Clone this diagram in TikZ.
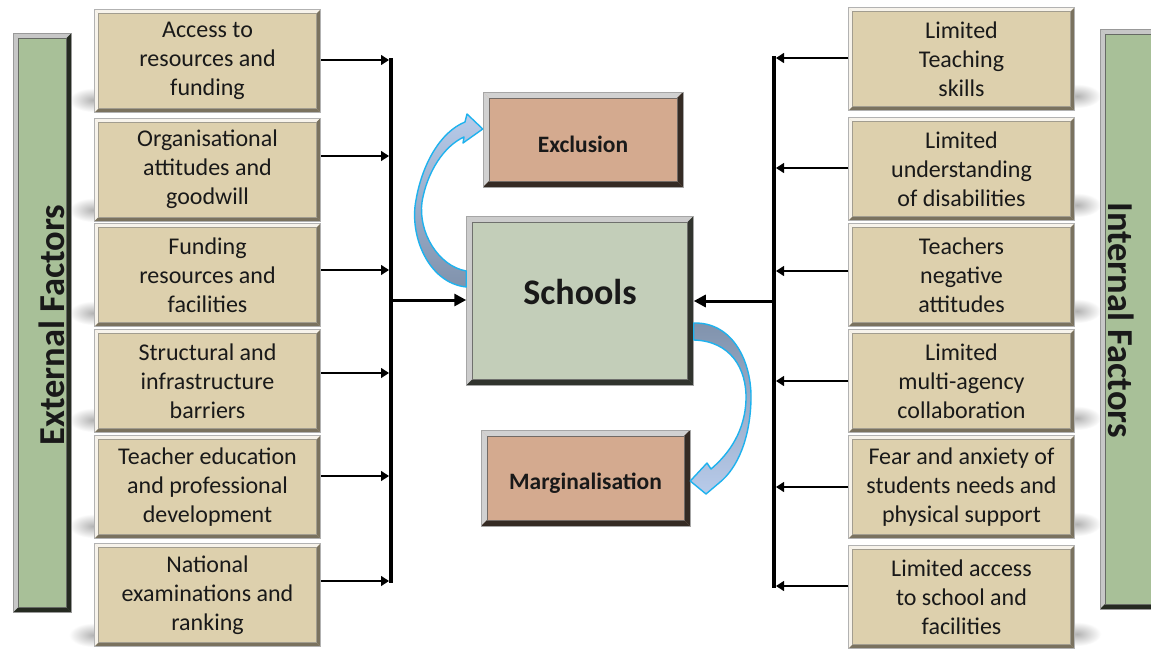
\documentclass[tikz,border=0pt]{standalone}
\usepackage{fontspec}
\setmainfont{Carlito}
\usetikzlibrary{arrows.meta,calc}

\definecolor{boxtan}{RGB}{221,208,173}
\definecolor{barGreen}{RGB}{168,192,152}
\definecolor{schoolGreen}{RGB}{195,206,185}
\definecolor{outcomeRose}{RGB}{212,170,143}
\definecolor{bendLight}{RGB}{184,203,234}
\definecolor{bendDark}{RGB}{128,146,172}
\definecolor{bendEdge}{RGB}{30,178,238}
\definecolor{inkDark}{RGB}{25,25,25}

% shift a one-line label up or down without changing its box
\newcommand{\nudge}[2]{\raisebox{#1}[\height][\depth]{#2}}

\tikzset{
  % bevelled edges: light on top/left, dark on right/bottom
  bevel/.style n args={3}{path picture={
    \coordinate (pnw) at (path picture bounding box.north west);
    \coordinate (pne) at (path picture bounding box.north east);
    \coordinate (psw) at (path picture bounding box.south west);
    \coordinate (pse) at (path picture bounding box.south east);
    \fill[#1] (pnw) -- (pne) -- ([xshift=-#3,yshift=-#3]pne) -- ([xshift=#3,yshift=-#3]pnw) -- cycle;
    \fill[#1] (pnw) -- ([xshift=#3,yshift=-#3]pnw) -- ([xshift=#3,yshift=#3]psw) -- (psw) -- cycle;
    \fill[#2] (pne) -- (pse) -- ([xshift=-#3,yshift=#3]pse) -- ([xshift=-#3,yshift=-#3]pne) -- cycle;
    \fill[#2] (psw) -- (pse) -- ([xshift=-#3,yshift=#3]pse) -- ([xshift=#3,yshift=#3]psw) -- cycle;
    \draw[#2!70!white, line width=0.6pt] ([xshift=#3,yshift=-#3]pnw) rectangle ([xshift=-#3,yshift=#3]pse);
  }},
  factor/.style={fill=boxtan, draw=black!30, line width=0.5pt,
    minimum width=226pt, minimum height=103pt, inner sep=0pt,
    align=center, text=inkDark, font=\fontsize{24}{29}\selectfont,
    bevel={white!75!boxtan}{boxtan!55!black}{4pt}},
  sidebar/.style={fill=barGreen, draw=black!40, line width=0.5pt,
    minimum width=58pt, inner sep=0pt,
    bevel={black!22}{black!78!barGreen}{5pt}},
  sidelabel/.style={text=inkDark, font=\fontsize{36.5}{40}\selectfont\bfseries, inner sep=0pt},
  hub/.style={fill=schoolGreen, draw=black!35, line width=0.5pt, inner sep=0pt,
    minimum width=227pt, minimum height=169pt, text=inkDark,
    font=\fontsize{36}{40}\selectfont\bfseries,
    bevel={black!20}{black!75!schoolGreen}{6pt}},
  outcome/.style={fill=outcomeRose, draw=black!35, line width=0.5pt, inner sep=0pt,
    text=inkDark, font=\fontsize{23.5}{28}\selectfont\bfseries,
    bevel={black!18}{black!75!outcomeRose}{6pt}},
  feed/.style={line width=1.2pt, -{Triangle[length=8pt,width=10pt]}},
  mainfeed/.style={line width=3pt, -{Triangle[length=12pt,width=12pt]}},
  spine/.style={line width=4pt},
  curvedarrow/.style={draw=bendEdge, line width=1.4pt, line join=round},
  softshadow/.style={inner color=black!30, outer color=white},
}

\begin{document}
\begin{tikzpicture}[x=1pt,y=-1pt]
\useasboundingbox (0,0) rectangle (1151,648);
\fill[white] (0,0) rectangle (1151,648);

% soft shadows cast by the factor boxes
\foreach \yb in {112,222,325,432,538,647}
  \shade[softshadow] (93,\yb-12) ellipse (24 and 12);
\foreach \yb in {110,219,325,432,538,648}
  \shade[softshadow] (1077,\yb-14) ellipse (24 and 12);

% side bars
\node[sidebar, minimum height=579pt] (extbar) at (42.5,322.5) {};
\node[sidebar, minimum height=580pt] (intbar) at (1129,319) {};
\node[sidelabel, rotate=90] (extlab) at (52,325) {External Factors};
\node[sidelabel, rotate=-90] (intlab) at (1121,320) {Internal Factors};

% external factors
\node[factor] (L1) at (207.5,61)    {Access to\\resources and\\funding};
\node[factor] (L2) at (207.5,169.5) {Organisational\\attitudes and\\goodwill};
\node[factor] (L3) at (207.5,275)   {Funding\\resources and\\facilities};
\node[factor] (L4) at (207.5,381)   {Structural and\\infrastructure\\barriers};
\node[factor] (L5) at (207.5,487)   {Teacher education\\and professional\\development};
\node[factor] (L6) at (207.5,595)   {National\\examinations and\\ranking};

% internal factors
\node[factor] (R1) at (961.5,59)    {Limited\\Teaching\\skills};
\node[factor] (R2) at (961.5,169)   {Limited\\understanding\\of disabilities};
\node[factor] (R3) at (961.5,275)   {Teachers\\negative\\attitudes};
\node[factor] (R4) at (961.5,381)   {Limited\\multi-agency\\collaboration};
\node[factor] (R5) at (961.5,487)   {Fear and anxiety of\\students needs and\\physical support};
\node[factor] (R6) at (961.5,597)   {Limited access\\to school and\\facilities};

% centre
\node[hub] (school) at (580,300.5) {\nudge{9pt}{Schools}};
\node[outcome, minimum width=200pt, minimum height=95pt] (excl) at (583,139.5) {\nudge{-5pt}{Exclusion}};
\node[outcome, minimum width=209pt, minimum height=96pt] (marg) at (585.5,478) {\nudge{-5pt}{Marginalisation}};

% collecting spines
\coordinate (spL1) at (391,58);
\coordinate (spL2) at (391,583);
\coordinate (spR1) at (774,56);
\coordinate (spR2) at (774,588);
\draw[spine] (spL1) -- (spL2);
\draw[spine] (spR1) -- (spR2);

% feeders into the left spine
\foreach \n/\y in {1/60,2/156,3/270,4/373,5/476,6/581}
  \draw[feed, shorten >=2pt] (L\n.east |- 0,\y) -- (spL1 |- 0,\y);
% feeders into the right spine
\foreach \n/\y in {1/58,2/168,3/271,4/381,5/487,6/586}
  \draw[feed, shorten >=2pt] (R\n.west |- 0,\y) -- (spR1 |- 0,\y);

% spines into the school
\draw[mainfeed] (spL1 |- 0,300) -- (school.west |- 0,300);
\draw[mainfeed] (spR1 |- 0,301) -- (school.east |- 0,301);

% curved arrow: school to exclusion
\path[curvedarrow, top color=bendLight, bottom color=bendDark]
  (school.west |- 0,287) .. controls (428,283) and (409,235) .. (416,200)
  .. controls (422,165) and (440,132) .. (465,122)
  -- (467,114) -- (excl.west |- 0,129) -- (463,143) -- (464,137)
  .. controls (444,146) and (427,172) .. (422,202)
  .. controls (418,232) and (438,266) .. (school.west |- 0,271) -- cycle;

% curved arrow: school to marginalisation
\path[curvedarrow, top color=bendDark, bottom color=bendLight]
  (school.east |- 0,323) .. controls (733,322) and (752,362) .. (751,400)
  .. controls (750,438) and (738,468) .. (719,483)
  -- (706,494) -- (marg.east |- 0,481) -- (707,463) -- (711,469)
  .. controls (730,453) and (745,430) .. (746,400)
  .. controls (747,368) and (730,341) .. (school.east |- 0,340) -- cycle;
\end{tikzpicture}
\end{document}
